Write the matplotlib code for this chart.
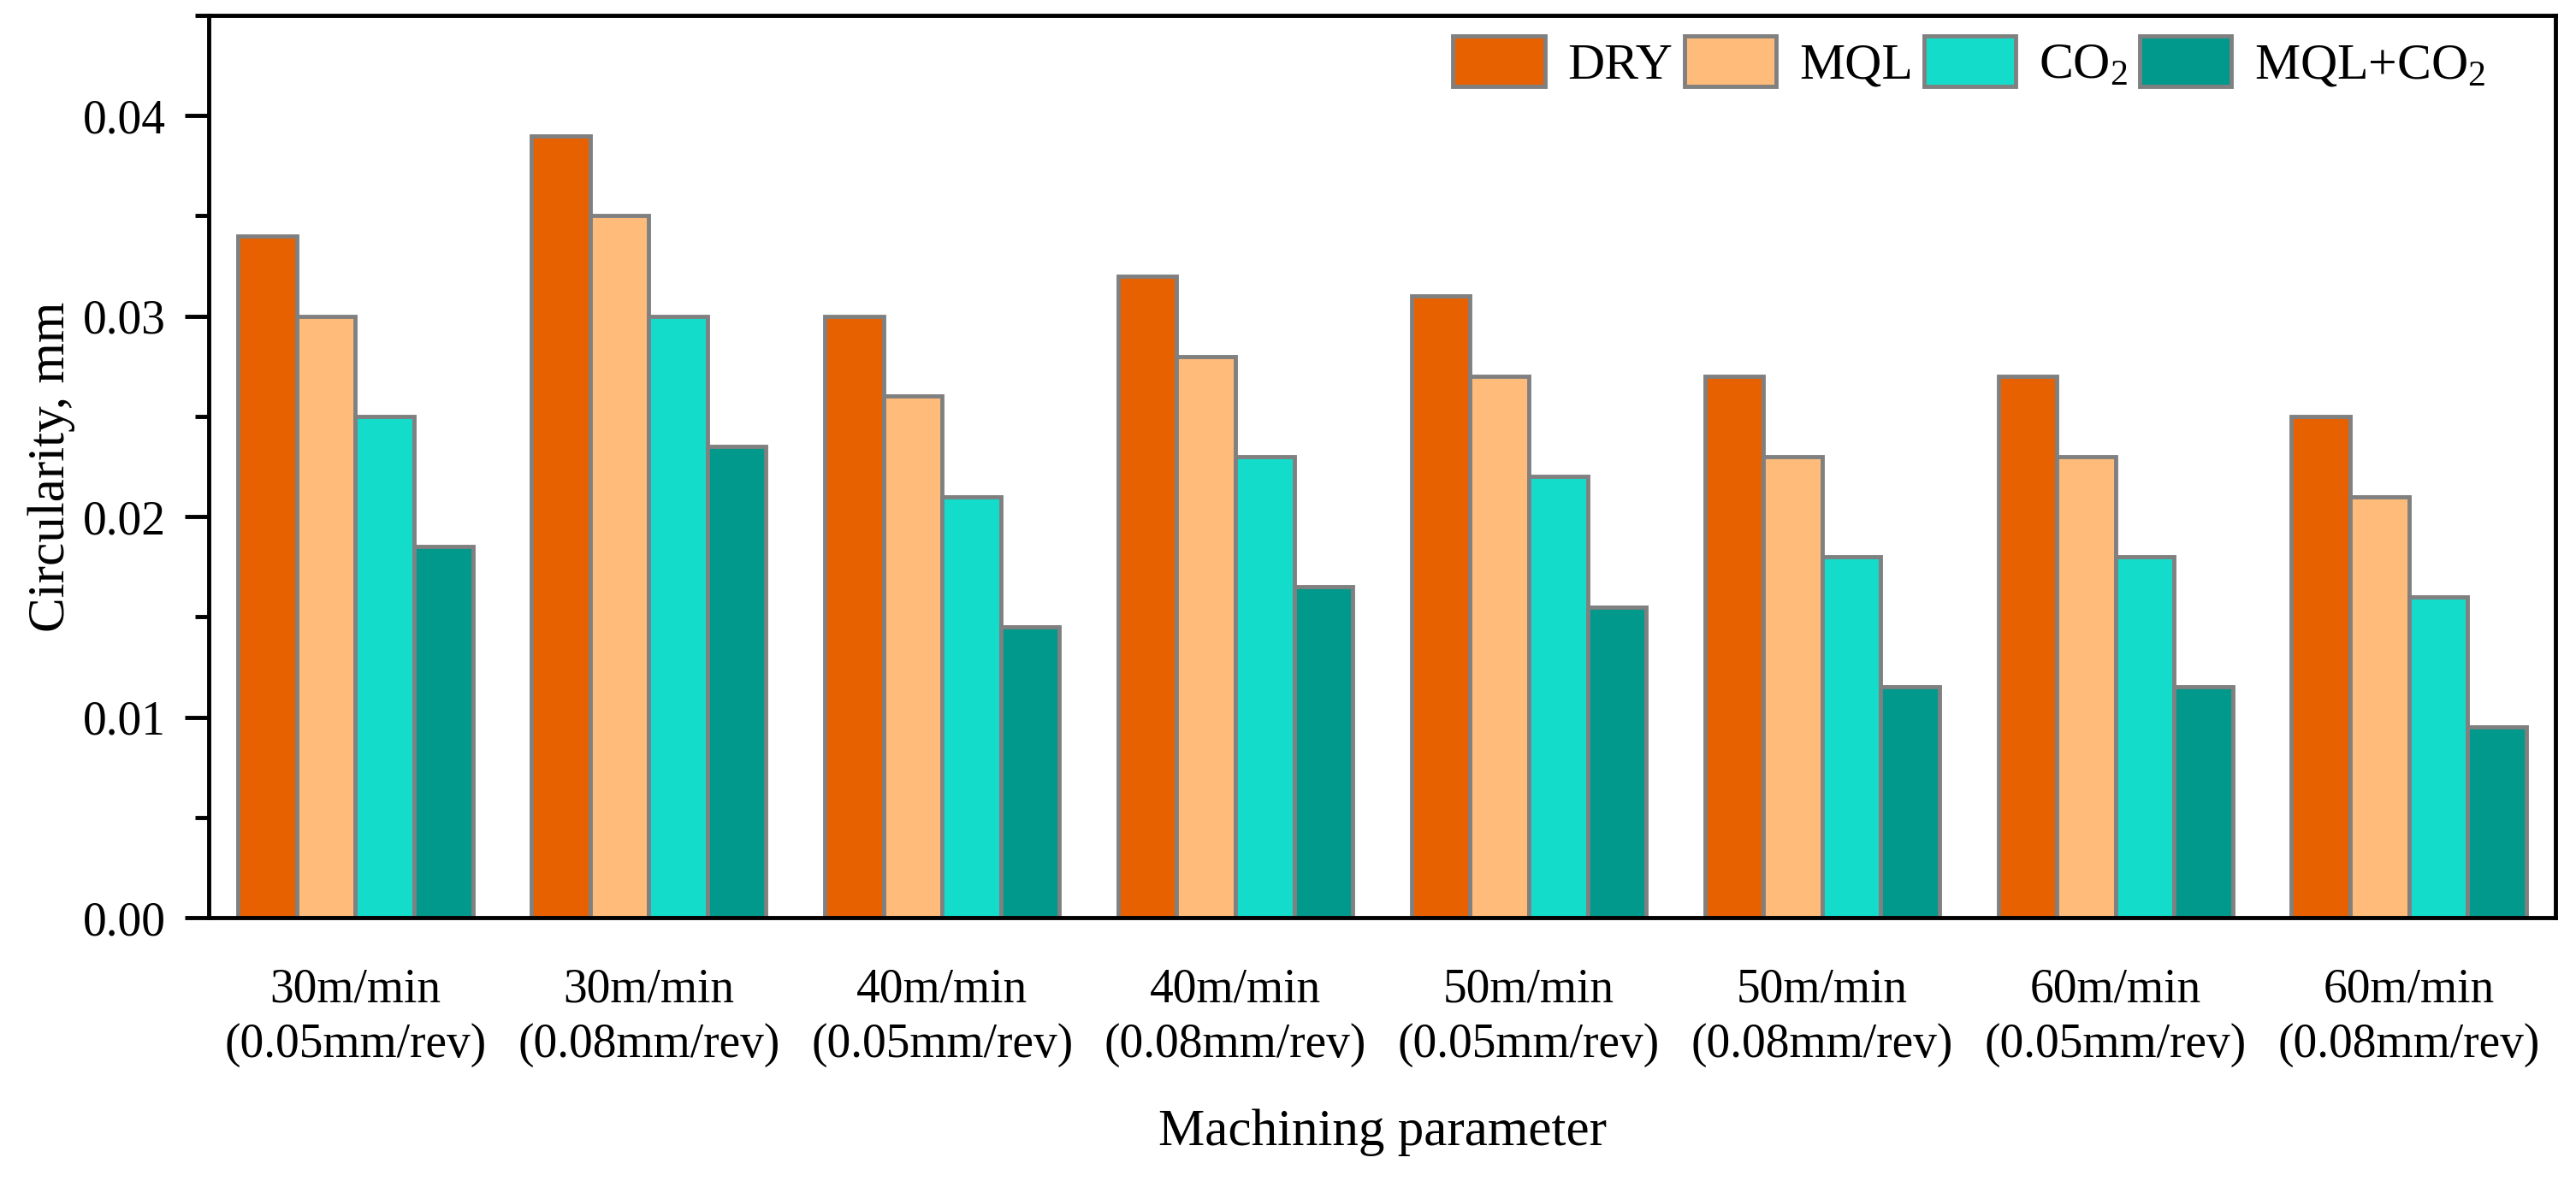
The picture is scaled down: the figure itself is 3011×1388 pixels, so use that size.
import numpy as np
import matplotlib
matplotlib.use("Agg")
import matplotlib.pyplot as plt
from matplotlib.ticker import MultipleLocator

plt.rcParams["font.family"] = ["Liberation Serif", "DejaVu Serif"]
plt.rcParams["mathtext.fontset"] = "custom"
plt.rcParams["mathtext.rm"] = "Liberation Serif"
plt.rcParams["mathtext.it"] = "Liberation Serif:italic"

# ---------------------------------------------------------------
# data
# ---------------------------------------------------------------
PARAMETROS = [
    "30m/min\n(0.05mm/rev)", "30m/min\n(0.08mm/rev)",
    "40m/min\n(0.05mm/rev)", "40m/min\n(0.08mm/rev)",
    "50m/min\n(0.05mm/rev)", "50m/min\n(0.08mm/rev)",
    "60m/min\n(0.05mm/rev)", "60m/min\n(0.08mm/rev)",
]

DRY = [0.034, 0.039, 0.030, 0.032, 0.031, 0.027, 0.027, 0.025]
MQL = [0.030, 0.035, 0.026, 0.028, 0.027, 0.023, 0.023, 0.021]
CO2 = [0.025, 0.030, 0.021, 0.023, 0.022, 0.018, 0.018, 0.016]
MQL_CO2 = [0.0185, 0.0235, 0.0145, 0.0165, 0.0155, 0.0115, 0.0115, 0.0095]

SERIES = [
    ("DRY", DRY, "#E86100"),
    ("MQL", MQL, "#FEBB7A"),
    (r"CO$_2$", CO2, "#13DCCB"),
    (r"MQL+CO$_2$", MQL_CO2, "#00998C"),
]

# ---------------------------------------------------------------
fig = plt.figure(figsize=(30.11, 13.88), dpi=100)
ax = fig.add_axes([244 / 3011, 1 - 1073 / 1388, 2743 / 3011, 1055 / 1388])

x = np.arange(len(PARAMETROS))
largura = 0.2

for i, (nome, valores, cor) in enumerate(SERIES):
    ax.bar(x + (i - 1.5) * largura, valores, width=largura,
           color=cor, edgecolor="#808080", linewidth=3.5, label=nome)

ax.set_xlim(-0.5, 7.5)
ax.set_ylim(0, 0.045)
ax.yaxis.set_major_locator(MultipleLocator(0.01))
ax.yaxis.set_minor_locator(MultipleLocator(0.005))
ax.yaxis.set_major_formatter(matplotlib.ticker.FormatStrFormatter("%.2f"))
ax.set_xticks(x)
ax.set_xticklabels(PARAMETROS, fontsize=40, linespacing=1.3)

ax.tick_params(axis="y", which="major", direction="out", length=20,
               width=3.5, labelsize=40, pad=16)
ax.tick_params(axis="y", which="minor", direction="out", length=11.5, width=3.5)
ax.tick_params(axis="x", which="major", length=0, pad=42)

for lado in ["left", "right", "top", "bottom"]:
    ax.spines[lado].set_linewidth(3.5)

ax.set_ylabel("Circularity, mm", fontsize=44)
ax.set_xlabel("Machining parameter", fontsize=44)
ax.yaxis.set_label_coords(-0.057, 0.5)
ax.xaxis.set_label_coords(0.5, -0.212)

ax.legend(loc="upper right", ncol=4, frameon=False, fontsize=43,
          handlelength=1.8, handleheight=1.15, handletextpad=0.45,
          columnspacing=0.22, borderaxespad=0.0,
          bbox_to_anchor=(0.979, 1.0))

fig.savefig("out.png", dpi=100)
